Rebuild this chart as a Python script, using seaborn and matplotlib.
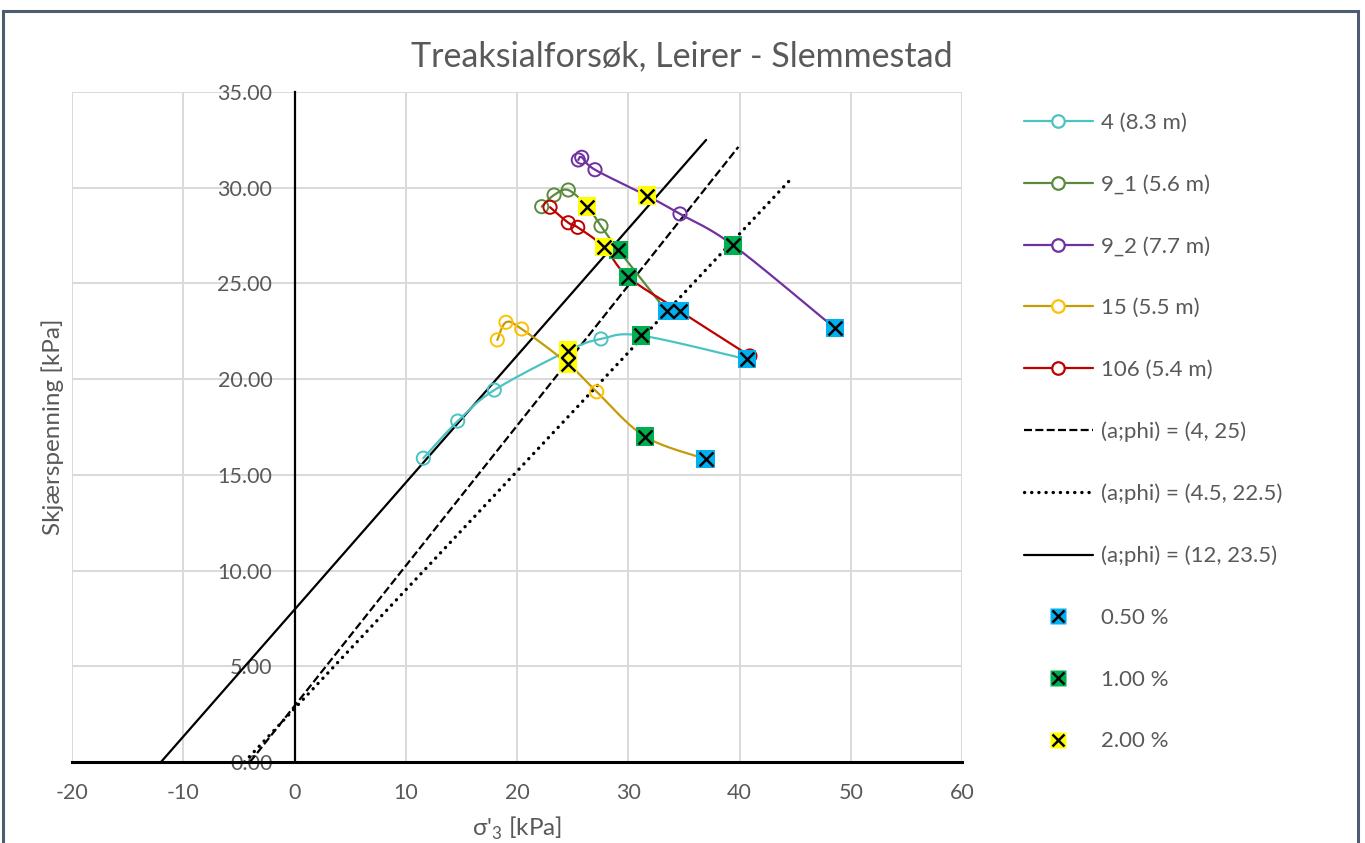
import numpy as np
import pandas as pd
import matplotlib
matplotlib.use("Agg")
import matplotlib.pyplot as plt
import seaborn as sns
from matplotlib.patches import Rectangle
from matplotlib.lines import Line2D

# ---- test data: sigma'3 [kPa] and shear stress [kPa] along each stress path ----
series_names = ["4 (8.3 m)", "9_1 (5.6 m)", "9_2 (7.7 m)", "15 (5.5 m)", "106 (5.4 m)"]

s4_x = [11.58, 14.67, 17.96, 24.61, 27.55, 31.12, 40.65]
s4_y = [15.87, 17.81, 19.43, 21.49, 22.10, 22.28, 21.04]

s9_1_x = [22.22, 23.33, 24.61, 26.32, 27.55, 29.11, 33.46]
s9_1_y = [29.01, 29.62, 29.88, 29.01, 28.00, 26.75, 23.55]

s9_2_x = [25.51, 25.82, 27.01, 31.66, 34.65, 39.44, 48.58]
s9_2_y = [31.45, 31.59, 30.94, 29.59, 28.63, 26.99, 22.66]

s15_x = [18.23, 19.01, 20.42, 24.61, 27.16, 31.51, 36.95]
s15_y = [22.05, 22.97, 22.62, 20.79, 19.34, 17.00, 15.83]

s106_x = [22.97, 24.61, 25.46, 27.82, 29.98, 34.65, 40.94]
s106_y = [28.98, 28.17, 27.93, 26.90, 25.34, 23.55, 21.21]

# index of the point reached at 0.5 %, 1 % and 2 % axial strain in each series
strain_labels = ["0.50 %", "1.00 %", "2.00 %"]
idx_05 = [6, 6, 6, 6, 5]
idx_10 = [5, 5, 5, 5, 4]
idx_20 = [3, 3, 3, 3, 3]

# failure envelopes: attraction a [kPa], friction angle phi [deg], end of drawn line
env_labels = ["(a;phi) = (4, 25)", "(a;phi) = (4.5, 22.5)", "(a;phi) = (12, 23.5)"]
env_a = [4.0, 4.5, 12.0]
env_phi = [25.0, 22.5, 23.5]
env_xmax = [39.9, 44.7, 37.0]

x_ticks = [-20, -10, 0, 10, 20, 30, 40, 50, 60]
y_ticks = [0, 5, 10, 15, 20, 25, 30, 35]

# ---- styling ----
line_colors = ["#4CC3C3", "#5B8A3C", "#7030A0", "#C59B06", "#C00000"]
marker_colors = ["#4CC3C3", "#5B8A3C", "#7030A0", "#FFC000", "#C00000"]
strain_colors = ["#00B0F0", "#00B050", "#FFFF00"]
env_styles = [(0, (3.6, 1.5)), (0, (0.05, 2.1)), "-"]
env_caps = ["butt", "round", "butt"]
env_widths = [1.6, 2.4, 1.6]
text_gray = "#595959"
font = ["Lato", "DejaVu Sans"]

sns.set_theme(style="white")
plt.rcParams["font.family"] = font
plt.rcParams["mathtext.fontset"] = "custom"
plt.rcParams["mathtext.rm"] = "Lato"
plt.rcParams["axes.unicode_minus"] = False


def smooth(xs, ys, n=24):
    """Bezier smoothing through the points (Catmull-Rom control points)."""
    P = np.column_stack([xs, ys]).astype(float)
    P = np.vstack([P[0], P, P[-1]])
    t = np.linspace(0, 1, n, endpoint=False)[:, None]
    parts = []
    for i in range(1, len(P) - 2):
        p0, p1, p2, p3 = P[i - 1], P[i], P[i + 1], P[i + 2]
        c1 = p1 + (p2 - p0) / 6.0
        c2 = p2 - (p3 - p1) / 6.0
        parts.append((1 - t) ** 3 * p1 + 3 * (1 - t) ** 2 * t * c1
                     + 3 * (1 - t) * t ** 2 * c2 + t ** 3 * p2)
    parts.append(P[-2][None])
    return np.vstack(parts)


fig = plt.figure(figsize=(13.65, 8.43), dpi=100)
ax = fig.add_axes([72 / 1365, 1 - 762 / 843, 890 / 1365, 670 / 843])

series_x = [s4_x, s9_1_x, s9_2_x, s15_x, s106_x]
series_y = [s4_y, s9_1_y, s9_2_y, s15_y, s106_y]

# failure envelopes tau = (sigma'3 + a) * sin(phi) / (1 - sin(phi))
for a, phi, xmax, ls, cap, w in zip(env_a, env_phi, env_xmax, env_styles,
                                    env_caps, env_widths):
    s = np.sin(np.radians(phi))
    xs = np.array([-a, xmax])
    env = pd.DataFrame({"x": xs, "y": (xs + a) * s / (1 - s)})
    sns.lineplot(data=env, x="x", y="y", ax=ax, color="black", lw=w,
                 linestyle=ls, dash_capstyle=cap, sort=False,
                 estimator=None, zorder=3)

# stress paths
for xs, ys, lc, mc in zip(series_x, series_y, line_colors, marker_colors):
    curve = smooth(xs, ys)
    sns.lineplot(x=curve[:, 0], y=curve[:, 1], ax=ax, color=lc, lw=1.6,
                 sort=False, estimator=None, zorder=4)
    sns.scatterplot(x=xs, y=ys, ax=ax, marker="o", s=90, facecolor="none",
                    edgecolor=mc, linewidth=1.4, zorder=5)

# strain level markers
for idx, col in zip([idx_05, idx_10, idx_20], strain_colors):
    px = [series_x[k][i] for k, i in enumerate(idx)]
    py = [series_y[k][i] for k, i in enumerate(idx)]
    sns.scatterplot(x=px, y=py, ax=ax, marker="s", s=175, color=col,
                    edgecolor="none", linewidth=0, zorder=6)
    sns.scatterplot(x=px, y=py, ax=ax, marker="x", s=100, color="black",
                    linewidth=1.8, zorder=7)

ax.set_xlim(-20, 60)
ax.set_ylim(0, 35)
ax.set_xticks(x_ticks)
ax.set_yticks(y_ticks)
ax.set_yticklabels([f"{v:.2f}" for v in y_ticks])
ax.grid(True, color="#D9D9D9", lw=1.4)
ax.set_axisbelow(True)

for side in ["top", "right"]:
    ax.spines[side].set_visible(False)
ax.spines["left"].set_position(("data", 0))
ax.spines["left"].set_color("black")
ax.spines["left"].set_linewidth(1.6)
ax.spines["left"].set_zorder(2.5)
ax.spines["bottom"].set_color("black")
ax.spines["bottom"].set_linewidth(2.2)
ax.tick_params(axis="both", length=0, labelsize=15.5, labelcolor=text_gray)
ax.tick_params(axis="y", pad=16)
ax.tick_params(axis="x", pad=15)
ax.set_xlabel("")
ax.set_ylabel("")

fig.text(53 / 1365, 1 - 427 / 843, "Skjærspenning [kPa]", rotation=90,
         ha="center", va="center", fontsize=17.5, color=text_gray)
fig.text(517 / 1365, 1 - 828 / 843, r"σ'$_{\mathregular{3}}$ [kPa]",
         ha="center", va="center", fontsize=17.5, color=text_gray)
fig.text(682 / 1365, 1 - 56 / 843, "Treaksialforsøk, Leirer - Slemmestad",
         ha="center", va="center", fontsize=24.5, color=text_gray)

# legend
handles = []
for lc, mc in zip(line_colors, marker_colors):
    handles.append(Line2D([], [], color=lc, lw=1.6, marker="o", markersize=9,
                          markerfacecolor="white", markeredgecolor=mc,
                          markeredgewidth=1.6))
for ls, cap, w in zip(env_styles, env_caps, env_widths):
    handles.append(Line2D([], [], color="black", lw=w, linestyle=ls,
                          dash_capstyle=cap))
for col in strain_colors:
    handles.append((Line2D([], [], lw=0, marker="s", markersize=11,
                           markerfacecolor=col, markeredgecolor="none"),
                    Line2D([], [], lw=0, marker="x", markersize=8.5,
                           markeredgecolor="black", markeredgewidth=1.8)))
labels = series_names + env_labels + strain_labels
leg = fig.legend(handles, labels, loc="upper left",
                 bbox_to_anchor=(1024 / 1365, 1 - 113 / 843), frameon=False,
                 fontsize=16, handlelength=3.1, handletextpad=0.36,
                 labelspacing=1.875, borderaxespad=0, borderpad=0)
for t in leg.get_texts():
    t.set_color(text_gray)

# chart frame
fig.patches.append(Rectangle((3 / 1365, -0.02), 1355 / 1365, 1.02 - 11 / 843,
                             transform=fig.transFigure, fill=False,
                             edgecolor="#4E5C72", lw=2.2))

fig.savefig("out.png", dpi=100)
